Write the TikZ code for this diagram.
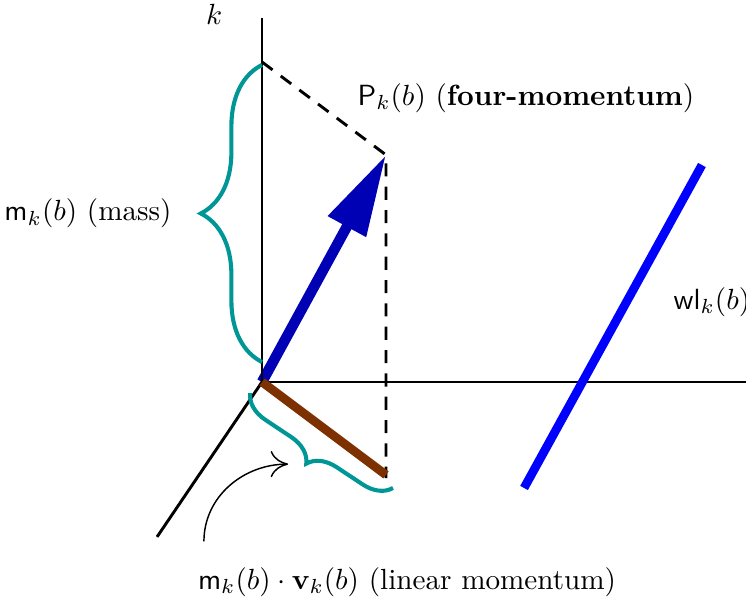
\documentclass[tikz,border=0pt]{standalone}
\usepackage{amssymb}
\usepackage{amsmath}
\usepackage{xcolor}
\usepackage{tikz}
\usetikzlibrary{arrows.meta,decorations.pathreplacing}

\definecolor{momblue}{RGB}{0,0,180}
\definecolor{braceteal}{RGB}{0,150,150}
\definecolor{spacebrown}{RGB}{125,48,0}

\begin{document}
\begin{tikzpicture}[
  axisline/.style={line width=1pt},
  dashline/.style={line width=1pt, dash pattern=on 4.5pt off 3.5pt},
  curly/.style={braceteal, line width=1.4pt, decorate},
  ]
  \useasboundingbox (-3.157,-2.687) rectangle (5.831,4.602);

  \coordinate (O)     at (0,0);
  \coordinate (kend)  at (0,4.39);
  \coordinate (xend)  at (5.85,0);
  \coordinate (yend)  at (-1.265,-1.867);
  \coordinate (P)     at (1.494,2.735);
  \coordinate (Pk)    at (0,3.855);
  \coordinate (Pfoot) at (1.494,-1.16);
  \coordinate (V)     at (1.494,-1.12);
  \coordinate (wlA)   at (3.157,-1.277);
  \coordinate (wlB)   at (5.30,2.614);
  \coordinate (mbot)  at (0,0.24);
  \coordinate (mtop)  at (0,3.82);
  \coordinate (vbeg)  at (1.578,-1.277);
  \coordinate (vend)  at (-0.145,-0.133);
  \coordinate (hook)  at (-0.70,-1.92);
  \coordinate (hookend) at (0.315,-0.99);

  % four-momentum arrow
  \draw[momblue, line width=3.6pt, -{Triangle[length=28pt,width=14pt]}] (O) -- (P);

  % axes
  \draw[axisline] (O) -- (kend);
  \draw[axisline] (O) -- (xend);
  \draw[axisline] (O) -- (yend);
  \node (klab) at (-0.578,4.434) {$k$};

  % projections
  \draw[dashline] (Pk) -- (P) -- (Pfoot);
  \draw[spacebrown, line width=3pt] (O) -- (V);

  % world line
  \draw[blue, line width=3pt] (wlA) -- (wlB);
  \node (wllab) at (5.42,0.96) {$\mathsf{wl}_k(b)$};

  % braces
  \draw[curly, decoration={brace, amplitude=21pt}] (mbot) -- node[midway, left=27pt, black] (masslab) {$\mathsf{m}_k(b)$ (mass)} (mtop);
  \draw[curly, decoration={brace, amplitude=9.5pt}] (vbeg) -- (vend);

  \node (Plab) at (3.18,3.42) {$\mathsf{P}_k(b)$ (\textbf{four-momentum})};
  \node (linlab) at (1.747,-2.41) {$\mathsf{m}_k(b)\cdot\mathbf{v}_k(b)$ (linear momentum)};
  \draw[line width=0.5pt, -{To[length=6pt,width=9pt]}] (hook) to[out=90, in=180] (hookend);
\end{tikzpicture}
\end{document}
